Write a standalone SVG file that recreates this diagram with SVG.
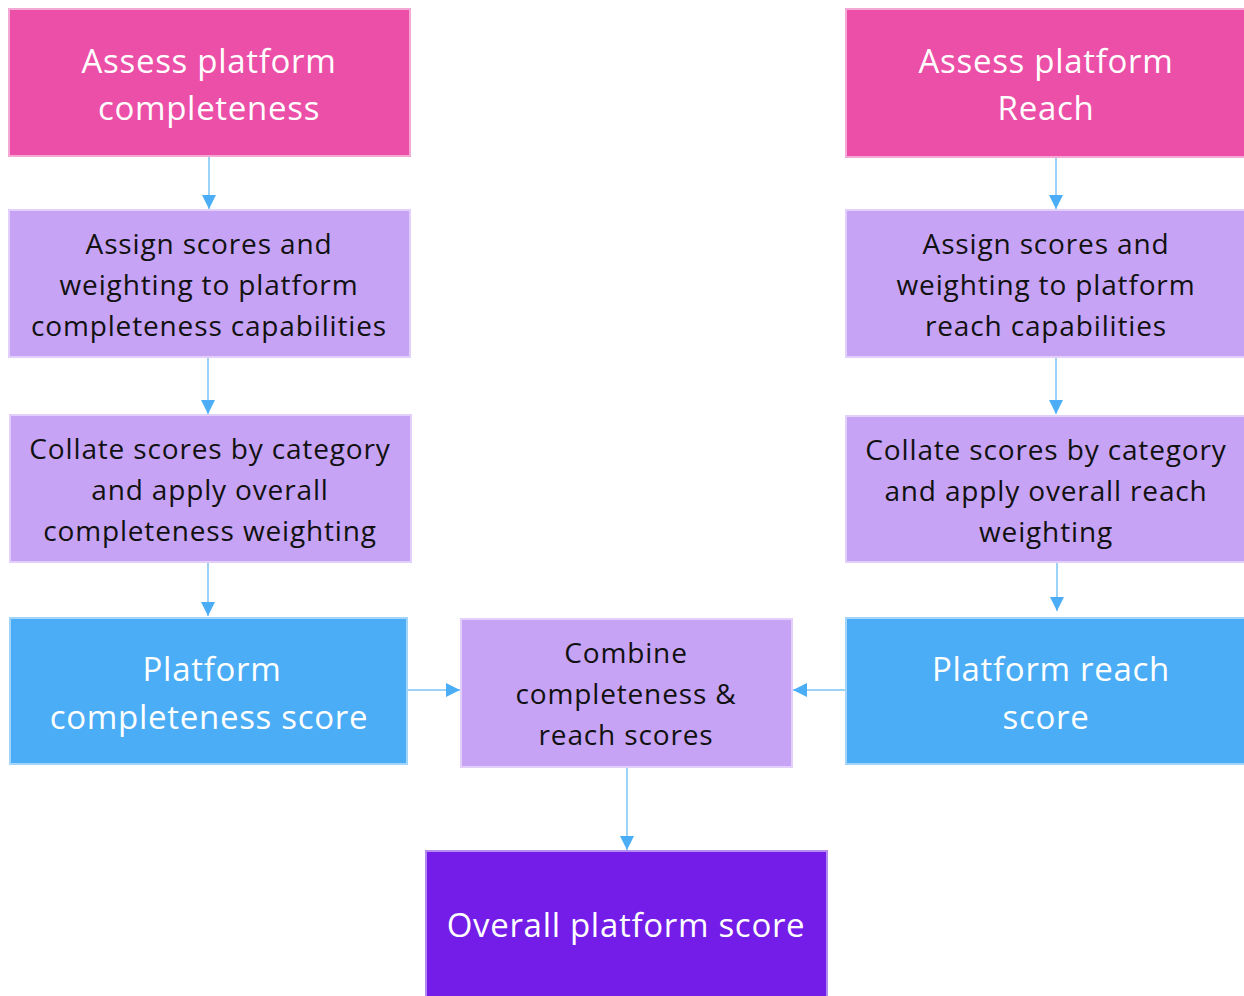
<svg xmlns="http://www.w3.org/2000/svg" width="1244" height="996" viewBox="0 0 1244 996">
<style>
.box{stroke-width:2}
.pink{fill:#EC4FA8;stroke:#F5A8D3}
.lav{fill:#C7A3F5;stroke:#E3CFFB}
.blue{fill:#4BADF5;stroke:#A3D5FA}
.deep{fill:#741CE8;stroke:#B68BF1}
text{font-family:"Open Sans","Noto Sans",sans-serif;text-anchor:middle;dominant-baseline:central}
.w{fill:#FFFFFF;font-size:33px;letter-spacing:0.7px}
.k{fill:#111111;font-size:28px;letter-spacing:0.85px}
.conn{stroke:#7EC4F7;stroke-width:1.5;fill:none}
</style>
<defs>
<marker id="ah" viewBox="0 0 10 10" refX="10" refY="5" markerWidth="14" markerHeight="14" markerUnits="userSpaceOnUse" orient="auto">
<path d="M0,0 L10,5 L0,10 z" fill="#4BADF5"/>
</marker>
</defs>
<g id="connectors">
<line class="conn" x1="209" y1="157" x2="209" y2="209" marker-end="url(#ah)"/>
<line class="conn" x1="208" y1="358" x2="208" y2="414" marker-end="url(#ah)"/>
<line class="conn" x1="208" y1="563" x2="208" y2="616" marker-end="url(#ah)"/>
<line class="conn" x1="1056" y1="158" x2="1056" y2="209" marker-end="url(#ah)"/>
<line class="conn" x1="1056" y1="358" x2="1056" y2="414" marker-end="url(#ah)"/>
<line class="conn" x1="1057" y1="563" x2="1057" y2="611" marker-end="url(#ah)"/>
<line class="conn" x1="408" y1="690" x2="460" y2="690" marker-end="url(#ah)"/>
<line class="conn" x1="845" y1="690" x2="793" y2="690" marker-end="url(#ah)"/>
<line class="conn" x1="627" y1="767" x2="627" y2="850" marker-end="url(#ah)"/>
</g>
<g id="assess-completeness">
<rect class="box pink" x="9" y="9" width="401" height="147"/>
<text class="w" x="209" y="60">Assess platform</text>
<text class="w" x="209" y="107">completeness</text>
</g>
<g id="assess-reach">
<rect class="box pink" x="846" y="9" width="400" height="148"/>
<text class="w" x="1046" y="60">Assess platform</text>
<text class="w" x="1046" y="107">Reach</text>
</g>
<g id="assign-completeness">
<rect class="box lav" x="9" y="210" width="401" height="147"/>
<text class="k" x="209" y="243">Assign scores and</text>
<text class="k" x="209" y="284">weighting to platform</text>
<text class="k" x="209" y="325">completeness capabilities</text>
</g>
<g id="assign-reach">
<rect class="box lav" x="846" y="210" width="400" height="147"/>
<text class="k" x="1046" y="243">Assign scores and</text>
<text class="k" x="1046" y="284">weighting to platform</text>
<text class="k" x="1046" y="325">reach capabilities</text>
</g>
<g id="collate-completeness">
<rect class="box lav" x="10" y="415" width="401" height="147"/>
<text class="k" x="210" y="448">Collate scores by category</text>
<text class="k" x="210" y="489">and apply overall</text>
<text class="k" x="210" y="530">completeness weighting</text>
</g>
<g id="collate-reach">
<rect class="box lav" x="846" y="416" width="400" height="146"/>
<text class="k" x="1046" y="449">Collate scores by category</text>
<text class="k" x="1046" y="490">and apply overall reach</text>
<text class="k" x="1046" y="531">weighting</text>
</g>
<g id="completeness-score">
<rect class="box blue" x="10" y="618" width="397" height="146"/>
<text class="w" x="212" y="668">Platform</text>
<text class="w" x="209" y="716">completeness score</text>
</g>
<g id="reach-score">
<rect class="box blue" x="846" y="618" width="400" height="146"/>
<text class="w" x="1051" y="668">Platform reach</text>
<text class="w" x="1046" y="716">score</text>
</g>
<g id="combine">
<rect class="box lav" x="461" y="619" width="331" height="148"/>
<text class="k" x="626" y="652">Combine</text>
<text class="k" x="626" y="693">completeness &amp;</text>
<text class="k" x="626" y="734">reach scores</text>
</g>
<g id="overall">
<rect class="box deep" x="426" y="851" width="401" height="150"/>
<text class="w" x="626" y="924">Overall platform score</text>
</g>
</svg>
